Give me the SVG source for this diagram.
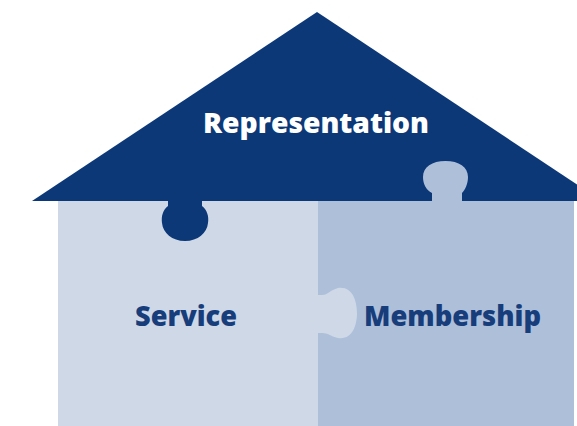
<svg xmlns="http://www.w3.org/2000/svg" width="577" height="426" viewBox="0 0 577 426">
  <style>
    .roof { fill: #0c3878; }
    .service { fill: #cfd8e6; }
    .member { fill: #aebfda; }
    .label { font-family: "Open Sans", "Liberation Sans", sans-serif; font-weight: 800; text-anchor: middle; }
    .light { fill: #ffffff; }
    .dark { fill: #173d7b; }
  </style>
  <rect width="577" height="426" fill="#ffffff"/>

  <!-- lower right piece -->
  <g id="membership">
    <rect class="member" x="318" y="200" width="256" height="226"/>
  </g>

  <!-- lower left piece with its knob pointing right -->
  <g id="service">
    <rect class="service" x="58" y="200" width="260" height="226"/>
    <path class="service" d="M317,295 L322,295 C328,295 330,290 338,288 C352,286 357,300 357,313 C357,326 352,340 338,338 C330,336 328,333 322,333 L317,333 Z"/>
  </g>

  <!-- roof piece with its knob pointing down -->
  <g id="representation">
    <polygon class="roof" points="317,12 32,201 602,201"/>
    <path class="roof" d="M168,200 L168,206 C163,210 161,216 162,223 C163,233 172,241 185,241 C198,241 207,233 208,223 C209,216 207,210 202,206 L202,200 Z"/>
    <text class="label light" x="316" y="133" font-size="29" textLength="226" lengthAdjust="spacingAndGlyphs">Representation</text>
  </g>

  <!-- knob of the right piece, drawn over the roof -->
  <g id="membership-knob">
    <path class="member" d="M432,202 L432,193 C426,190 423,184 423,177 C423,167 432,161 445.5,161 C459,161 468,167 468,177 C468,184 465,190 462,193 L462,202 Z"/>
  </g>

  <g id="labels">
    <text class="label dark" x="186" y="326" font-size="29" textLength="102" lengthAdjust="spacingAndGlyphs">Service</text>
    <text class="label dark" x="452.5" y="326" font-size="29" textLength="177" lengthAdjust="spacingAndGlyphs">Membership</text>
  </g>
</svg>
